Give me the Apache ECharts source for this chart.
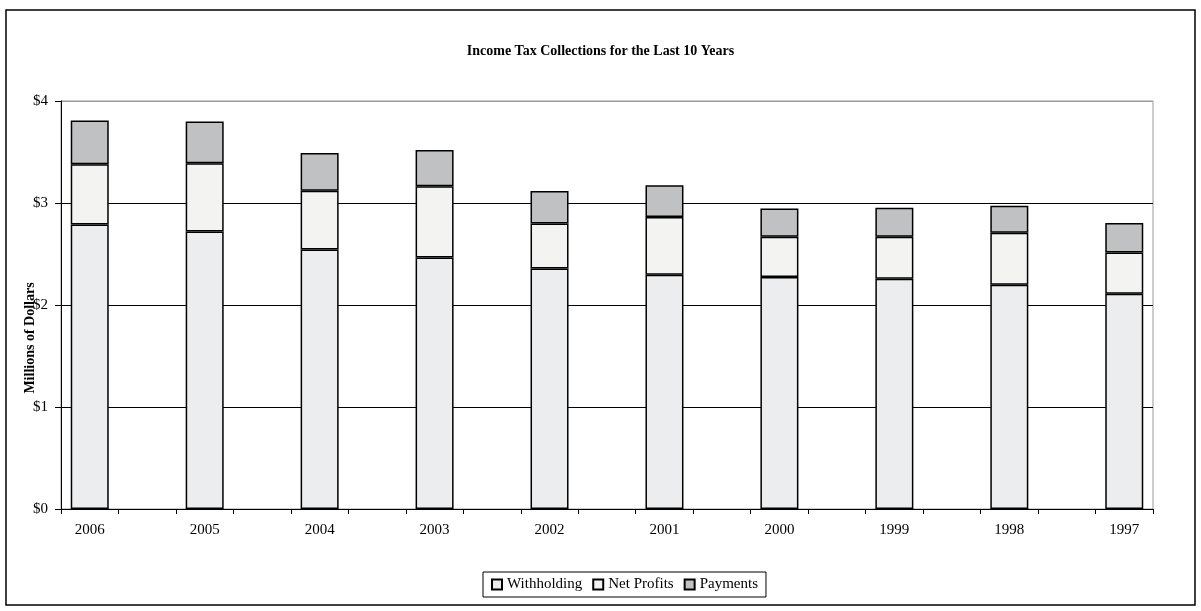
<!DOCTYPE html>
<html>
<head>
<meta charset="utf-8">
<script src="https://cdn.jsdelivr.net/npm/echarts@6/dist/echarts.min.js"></script>
<style>html,body{margin:0;padding:0;background:#fff}#c{width:1201px;height:611px}</style>
</head>
<body>
<div id="c"></div>
<script>
var years = ['2006','2005','2004','2003','2002','2001','2000','1999','1998','1997'];
var withholding = [2.79, 2.72, 2.545, 2.466, 2.358, 2.296, 2.274, 2.257, 2.198, 2.11];
var netProfits  = [0.59, 0.67, 0.575, 0.697, 0.442, 0.567, 0.395, 0.412, 0.511, 0.405];
var payments    = [0.43, 0.41, 0.37, 0.357, 0.318, 0.31, 0.278, 0.285, 0.264, 0.289];
var yTicks = ['$0','$1','$2','$3','$4'];

// axis slots: each year followed by an empty spacer slot
var slots = [];
function spread(arr){ var out=[]; arr.forEach(function(v,i){ out.push(v); if(i<arr.length-1) out.push('-'); }); return out; }
years.forEach(function(y,i){ slots.push(y); if(i<years.length-1) slots.push(''); });

var font = 'Liberation Serif';
var chart = echarts.init(document.getElementById('c'));
function ser(name, data, color){
  return {name:name, type:'bar', stack:'t', data:spread(data), barWidth:38,
    itemStyle:{color:color, borderColor:'#000', borderWidth:1.5}};
}
chart.setOption({
  animation:false,
  backgroundColor:'#fff',
  textStyle:{fontFamily:font},
  title:{text:'Income Tax Collections for the Last 10 Years', left:'center', top:39,
    textStyle:{fontFamily:font, fontSize:14, fontWeight:'bold', color:'#000'}},
  grid:{left:61, right:48, top:101, bottom:102, show:true, borderColor:'#999', borderWidth:1, backgroundColor:'transparent'},
  legend:{data:['Withholding','Net Profits','Payments'], bottom:14, left:483,
    icon:'rect', itemWidth:10, itemHeight:10, itemGap:10,
    borderColor:'#000', borderWidth:1, padding:[5,8,5,8],
    textStyle:{fontFamily:font, fontSize:15, color:'#000', padding:[0,0,0,0]}},
  xAxis:{type:'category', data:slots,
    axisLine:{lineStyle:{color:'#000', width:1}},
    axisTick:{show:true, interval:0, length:5, lineStyle:{color:'#000'}},
    axisLabel:{interval:0, fontFamily:font, fontSize:15, color:'#000', margin:14}},
  yAxis:{type:'value', min:0, max:4, interval:1,
    axisLine:{show:true, lineStyle:{color:'#000', width:1}},
    axisTick:{show:true, length:6, lineStyle:{color:'#000'}},
    axisLabel:{fontFamily:font, fontSize:15, color:'#000', margin:13,
      formatter:function(v){ return yTicks[v]; }},
    splitLine:{show:true, lineStyle:{color:['#000','#000','#000','#000','#999'], width:1}}},
  graphic:[
    {type:'rect', shape:{x:6, y:10, width:1189, height:595}, style:{fill:null, stroke:'#000', lineWidth:1.5}, silent:true},
    {type:'text', x:30, y:338, rotation:Math.PI/2, style:{text:'Millions of Dollars', fill:'#000',
      font:'bold 14px "Liberation Serif"', textAlign:'center', textVerticalAlign:'middle'}}
  ],
  series:[
    ser('Withholding', withholding, '#ECEDEF'),
    ser('Net Profits', netProfits, '#F3F4F2'),
    ser('Payments', payments, '#C0C1C3')
  ]
});
</script>
</body>
</html>
